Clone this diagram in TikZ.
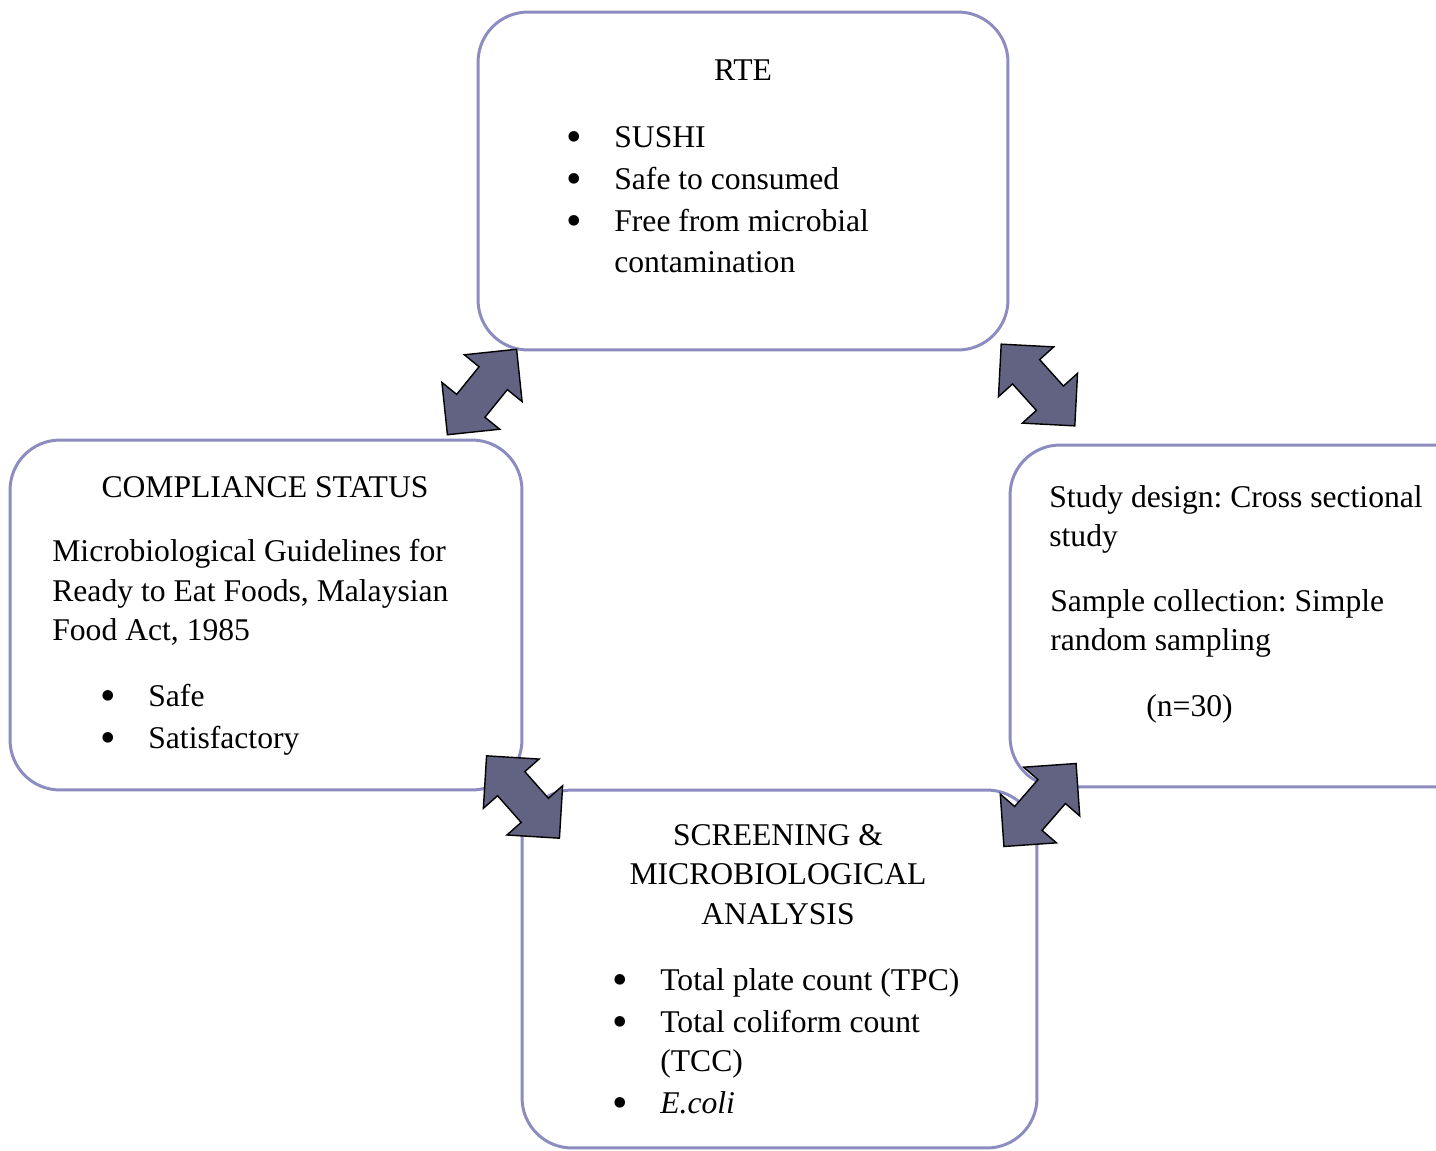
\documentclass[tikz,border=0pt]{standalone}
\usepackage{fontspec}
\setmainfont{Liberation Serif}
\usepackage{xcolor}
\definecolor{boxline}{RGB}{140,140,192}
\definecolor{arrowfill}{RGB}{98,98,130}
\usetikzlibrary{shapes.arrows, positioning, calc}
\newcommand{\itm}{\makebox[0.96cm][l]{\raisebox{-0.08cm}{\scalebox{1.4}{\textbullet}}}}
\frenchspacing

\begin{document}
\begin{tikzpicture}[x=0.02cm, y=-0.02cm,
    box/.style={rectangle, draw=boxline, line width=1.7pt, rounded corners=1cm, inner sep=0},
    link/.style={double arrow, draw=black, fill=arrowfill, line width=0.8pt, minimum height=2.2cm, inner xsep=0, inner ysep=0.35cm, double arrow head extend=0.38cm, double arrow tip angle=90},
    txt/.style={anchor=base west, inner sep=0, font=\fontsize{18}{22}\selectfont},
    title/.style={anchor=base, inner sep=0, font=\fontsize{18}{22}\selectfont}
]
    \useasboundingbox (0,0) rectangle (1436,1150);
    \clip (0,0) rectangle (1436,1150);

    % Boxes
    \node[box, minimum width=10.6cm, minimum height=6.76cm] (rte) at (743,181) {};
    \node[box, minimum width=10.24cm, minimum height=7cm] (comp) at (266,615) {};
    \node[box, minimum width=9.8cm, minimum height=6.84cm] (design) at (1255,616) {};
    \node[box, minimum width=10.3cm, minimum height=7.16cm] (screen) at (779.5,969) {};

    % RTE
    \node[title] (rtehead) at (743,80) {RTE};
    \node[txt] (rte1) at (566,147) {\itm SUSHI};
    \node[txt] (rte2) at (566,189) {\itm Safe to consumed};
    \node[txt] (rte3) at (566,231) {\itm Free from microbial};
    \node[txt] (rte4) at (614,272) {contamination};

    % Compliance status
    \node[title] (comphead) at (265,497) {COMPLIANCE STATUS};
    \node[txt] (comp1) at (52,561) {Microbiological Guidelines for};
    \node[txt] (comp2) at (52,601) {Ready to Eat Foods, Malaysian};
    \node[txt] (comp3) at (52,640) {Food Act, 1985};
    \node[txt] (comp4) at (100,706) {\itm Safe};
    \node[txt] (comp5) at (100,748) {\itm Satisfactory};

    % Study design
    \node[txt] (design1) at (1049,507) {Study design: Cross sectional};
    \node[txt] (design2) at (1049,546) {study};
    \node[txt] (design3) at (1050,611) {Sample collection: Simple};
    \node[txt] (design4) at (1050,650) {random sampling};
    \node[txt] (design5) at (1146,716) {(n=30)};

    % Screening
    \node[title] (screenhead1) at (778,845) {SCREENING \&};
    \node[title] (screenhead2) at (778,884) {MICROBIOLOGICAL};
    \node[title] (screenhead3) at (778,924) {ANALYSIS};
    \node[txt] (screen1) at (612,990) {\itm Total plate count (TPC)};
    \node[txt] (screen2) at (612,1032) {\itm Total coliform count};
    \node[txt] (screen3) at (660,1071) {(TCC)};
    \node[txt] (screen4) at (612,1113) {\itm \textit{E.coli}};

    % Links
    \node[link, rotate=51] (l1) at (482,392) {};
    \node[link, rotate=-48] (l2) at (1038,385) {};
    \node[link, rotate=-48.5] (l3) at (523,797) {};
    \node[link, rotate=49] (l4) at (1040,805) {};
\end{tikzpicture}
\end{document}
